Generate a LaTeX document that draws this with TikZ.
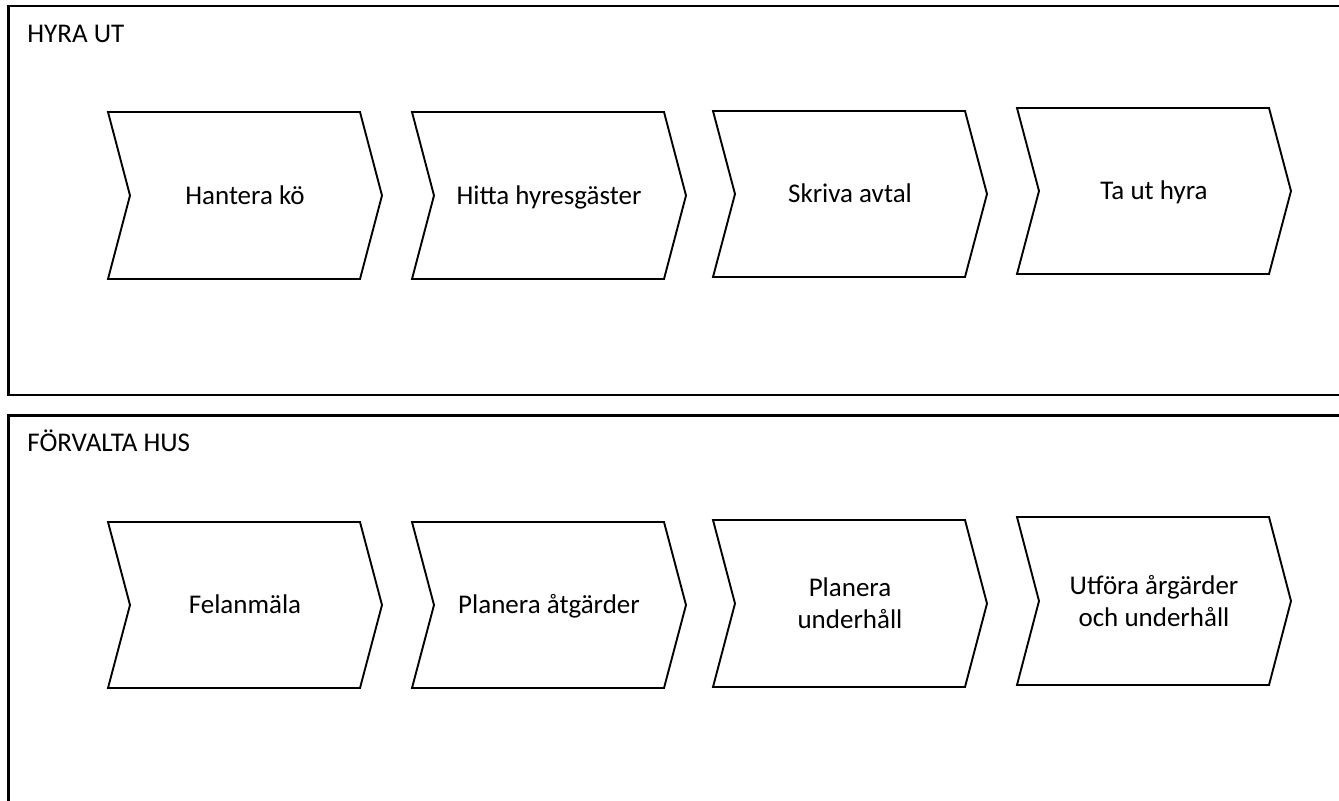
\documentclass[tikz,border=0pt]{standalone}
\usepackage{fontspec}
\setmainfont{Carlito}

\tikzset{
  lane/.style={draw, line width=1.1pt},
  step box/.style={draw, line width=0.95pt, line join=miter, fill=white},
  steptext/.style={align=center, text height=11pt, text depth=2.3pt,
    font=\fontsize{13.5}{16}\selectfont},
  twoline/.style={text height=, text depth=},
  lanetitle/.style={anchor=base west, inner sep=0pt, font=\fontsize{13.5}{16}\selectfont}
}

% chevron: [text style] left x, top y, bottom y, name, text
\newcommand{\chevron}[6][]{%
  \draw[step box] (#2,#3) -- ({#2+252},#3) -- ({#2+274},{(#3+#4)/2})
    -- ({#2+252},#4) -- (#2,#4) -- ({#2+22},{(#3+#4)/2}) -- cycle;
  \node[steptext,#1] (#5) at ({#2+137},{(#3+#4)/2}) {#6};
}

\begin{document}
\begin{tikzpicture}[x=0.5pt,y=-0.5pt]
  \clip (0,0) rectangle (1339,800);
  \fill[white] (0,0) rectangle (1339,800);

  % top lane
  \draw[lane] (8.5,6) rectangle (1350,395);
  \node[lanetitle] (hyra) at (27,42) {HYRA UT};
  \chevron{108}{112}{279}{ko}{Hantera kö}
  \chevron{412}{112}{279}{gaster}{Hitta hyresgäster}
  \chevron{713}{111}{277}{avtal}{Skriva avtal}
  \chevron{1017}{108}{274}{tahyra}{Ta ut hyra}

  % bottom lane
  \draw[lane] (8.5,415.5) rectangle (1350,820);
  \node[lanetitle] (forvalta) at (27,451) {FÖRVALTA HUS};
  \chevron{108}{522}{688}{fel}{Felanmäla}
  \chevron{412}{522}{688}{atg}{Planera åtgärder}
  \chevron[twoline]{713}{520}{687}{underh}{Planera\\underhåll}
  \chevron[twoline]{1017}{517}{685}{utfora}{Utföra årgärder\\och underhåll}
\end{tikzpicture}
\end{document}
